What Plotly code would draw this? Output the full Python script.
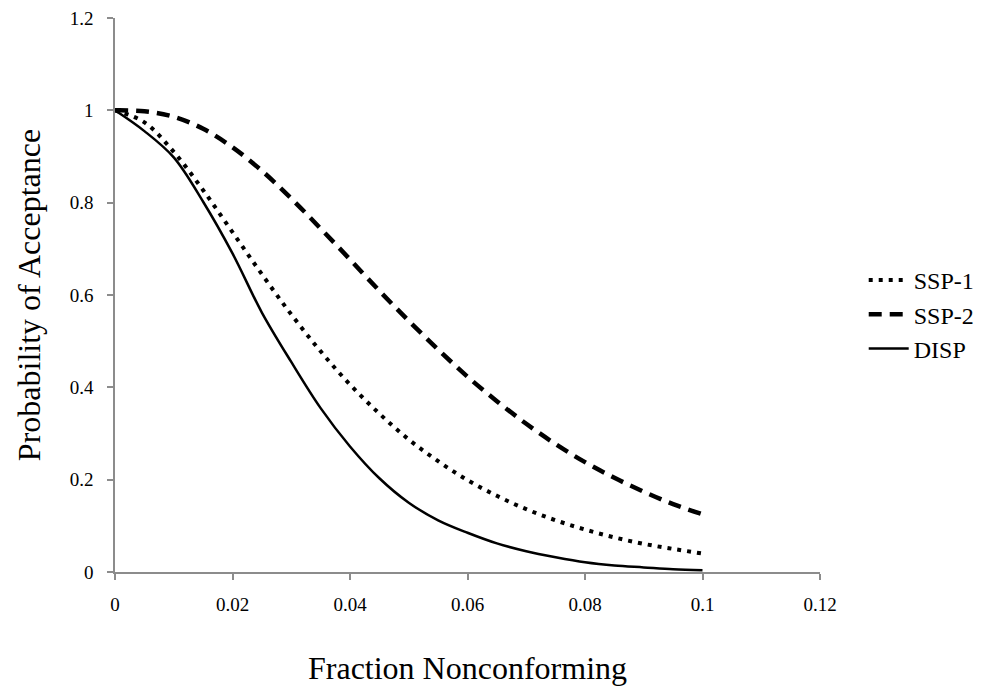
import plotly.graph_objects as go

# Fraction nonconforming (x) values
fraction = [0.0, 0.005, 0.01, 0.015, 0.02, 0.025, 0.03, 0.035, 0.04, 0.045, 0.05,
            0.055, 0.06, 0.065, 0.07, 0.075, 0.08, 0.085, 0.09, 0.095, 0.1]

# Probability of acceptance
ssp1 = [1.0, 0.974, 0.910, 0.827, 0.736, 0.645, 0.558, 0.478, 0.406, 0.343, 0.287,
        0.240, 0.199, 0.165, 0.136, 0.112, 0.092, 0.075, 0.061, 0.050, 0.040]
ssp2 = [1.0, 0.998, 0.986, 0.960, 0.920, 0.869, 0.809, 0.744, 0.677, 0.609, 0.544,
        0.482, 0.423, 0.370, 0.321, 0.277, 0.238, 0.204, 0.174, 0.147, 0.125]
disp = [1.0, 0.955, 0.898, 0.802, 0.690, 0.562, 0.455, 0.355, 0.272, 0.203, 0.150,
        0.112, 0.085, 0.062, 0.045, 0.032, 0.021, 0.014, 0.010, 0.006, 0.004]

series_names = ["SSP-1", "SSP-2", "DISP"]

x_ticks = [0, 0.02, 0.04, 0.06, 0.08, 0.1, 0.12]
x_tick_labels = ["0", "0.02", "0.04", "0.06", "0.08", "0.1", "0.12"]
y_ticks = [0, 0.2, 0.4, 0.6, 0.8, 1.0, 1.2]
y_tick_labels = ["0", "0.2", "0.4", "0.6", "0.8", "1", "1.2"]

FONT = "Liberation Serif, Times New Roman, serif"

fig = go.Figure()
fig.add_trace(go.Scatter(x=fraction, y=ssp1, name=series_names[0], mode="lines",
                         line=dict(color="black", width=4, dash="4px,6px", shape="spline")))
fig.add_trace(go.Scatter(x=fraction, y=ssp2, name=series_names[1], mode="lines",
                         line=dict(color="black", width=4.5, dash="13px,8px", shape="spline")))
fig.add_trace(go.Scatter(x=fraction, y=disp, name=series_names[2], mode="lines",
                         line=dict(color="black", width=2.5, shape="spline")))

axis_common = dict(
    showgrid=False, zeroline=False, showline=True, linecolor="#8c8c8c", linewidth=1.5,
    ticks="outside", tickcolor="#8c8c8c", ticklen=6, tickwidth=1.5,
    tickfont=dict(family=FONT, size=19, color="black"),
)

fig.update_layout(
    width=982, height=686,
    margin=dict(l=115, r=162, t=18, b=114, autoexpand=False),
    paper_bgcolor="white", plot_bgcolor="white",
    font=dict(family=FONT, color="black"),
    xaxis=dict(range=[0, 0.12], tickvals=x_ticks, ticktext=x_tick_labels,
               title=dict(text="Fraction Nonconforming", font=dict(family=FONT, size=32), standoff=44),
               automargin=False, ticklabelstandoff=8, **axis_common),
    yaxis=dict(range=[0, 1.2], tickvals=y_ticks, ticktext=y_tick_labels,
               title=dict(text="Probability of Acceptance", font=dict(family=FONT, size=32), standoff=20),
               automargin=False, ticklabelstandoff=10, **axis_common),
    legend=dict(x=1.062, y=0.465, xanchor="left", yanchor="middle",
                font=dict(family=FONT, size=24, color="black"),
                bgcolor="rgba(0,0,0,0)", tracegroupgap=0, itemwidth=40),
    showlegend=True,
)

fig.write_html("out.html")
